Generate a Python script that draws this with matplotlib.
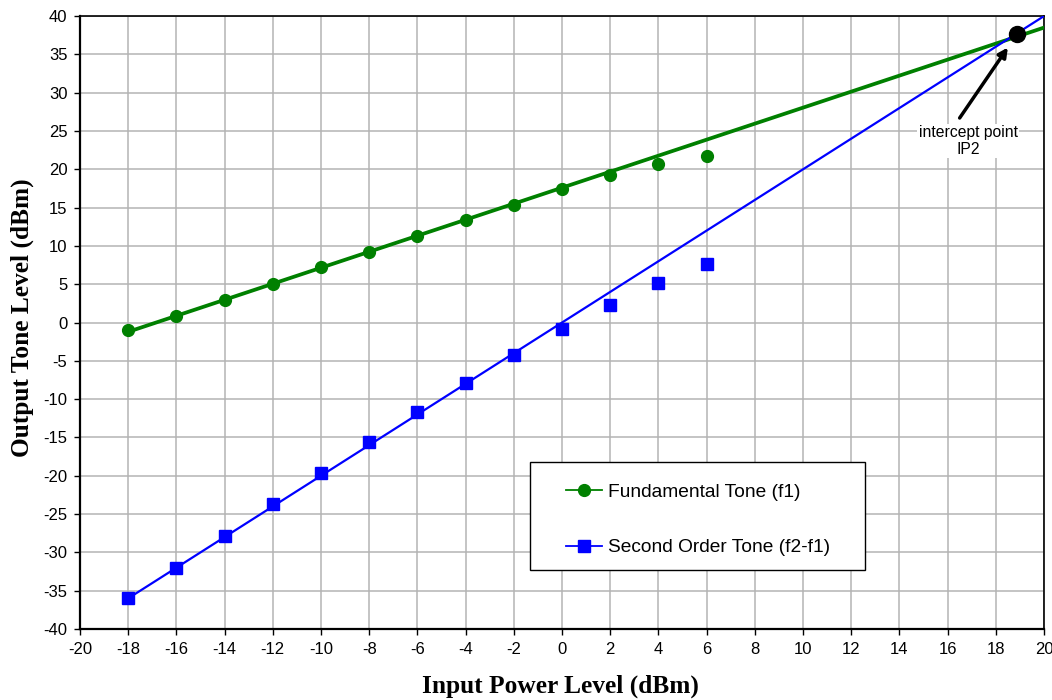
import matplotlib
matplotlib.use("Agg")
import matplotlib.pyplot as plt
from matplotlib.patches import Rectangle
import numpy as np

# Data
input_dbm = [-18, -16, -14, -12, -10, -8, -6, -4, -2, 0, 2, 4, 6]
fundamental = [-1.0, 0.9, 3.0, 5.0, 7.2, 9.2, 11.3, 13.4, 15.4, 17.4, 19.2, 20.7, 21.7]
second_order = [-36.0, -32.0, -27.9, -23.7, -19.7, -15.6, -11.7, -7.9, -4.2, -0.9, 2.3, 5.2, 7.6]

# Extrapolated linear trend lines (slope, offset) as drawn in the reference
fund_slope, fund_offset = 1.045, 17.6
second_slope, second_offset = 2.0, 0.0
trend_x = [-18, 20]

ip2_x, ip2_y = 18.9, 37.7

x_ticks = list(range(-20, 21, 2))
y_ticks = list(range(-40, 41, 5))

plt.rcParams['font.family'] = ['Liberation Sans', 'DejaVu Sans']
plt.rcParams['axes.unicode_minus'] = False

fig = plt.figure(figsize=(10.52, 7.0), dpi=100)
ax = fig.add_axes([0.076, 0.1014, 0.9164, 0.8756])

green = '#008000'
blue = '#0000FF'

tx = np.array(trend_x, dtype=float)
ax.plot(tx, fund_offset + fund_slope * tx, color=green, lw=2.7, zorder=3)
ax.plot(tx, second_offset + second_slope * tx, color=blue, lw=1.6, zorder=3)

ax.plot(input_dbm, fundamental, 'o', color=green, ms=8.5, zorder=4)
ax.plot(input_dbm, second_order, 's', color=blue, ms=8.5, zorder=4)

# legend frame (axes coords) + legend contents
x0, y0, w, h = 0.4668, 0.0962, 0.3476, 0.1762
ax.add_patch(Rectangle((x0, y0), w, h, transform=ax.transAxes, fc='white',
                       ec='black', lw=1.0, zorder=5))
h1, = ax.plot([], [], '-o', color=green, lw=1.3, ms=8.5, label='Fundamental Tone (f1)')
h2, = ax.plot([], [], '-s', color=blue, lw=1.3, ms=8.5, label='Second Order Tone (f2-f1)')
leg = ax.legend(handles=[h1, h2], loc='upper left', bbox_to_anchor=(0.5045, 0.238),
                fontsize=13.8, frameon=False, labelspacing=2.0, handlelength=1.85,
                handletextpad=0.3, borderpad=0, borderaxespad=0)
leg.set_zorder(6)

ax.plot([ip2_x], [ip2_y], 'o', color='black', ms=11.5, zorder=7, clip_on=False)
ax.text(16.85, 23.7, 'intercept point\nIP2', ha='center', va='center', fontsize=11.3,
        zorder=7, linespacing=1.15,
        bbox=dict(boxstyle='square,pad=0.1', fc='white', ec='none'))
ax.annotate('', xy=(18.5, 35.9), xytext=(16.5, 26.7), zorder=8,
            arrowprops=dict(arrowstyle='-|>,head_length=0.55,head_width=0.28', color='black',
                            lw=2.5, shrinkA=0, shrinkB=0))

ax.set_xlim(-20, 20)
ax.set_ylim(-40, 40)
ax.set_xticks(x_ticks)
ax.set_yticks(y_ticks)
ax.tick_params(axis='both', labelsize=12, direction='out', length=4, width=1, pad=5)
ax.grid(True, color='#b4b4b4', lw=1.1, zorder=0)
ax.set_axisbelow(True)
for s in ax.spines.values():
    s.set_color('black')
    s.set_linewidth(1.2)
ax.spines['left'].set_linewidth(1.6)
ax.spines['bottom'].set_linewidth(1.6)

fig.text(560 / 1052, 1 - 686 / 700, 'Input Power Level (dBm)', fontsize=18.3,
         fontweight='bold', family=['Liberation Serif'], ha='center', va='center')
fig.text(22 / 1052, 1 - 318 / 700, 'Output Tone Level (dBm)', fontsize=18.3,
         fontweight='bold', family=['Liberation Serif'], ha='center', va='center',
         rotation=90)

fig.savefig('out.png', dpi=100)
